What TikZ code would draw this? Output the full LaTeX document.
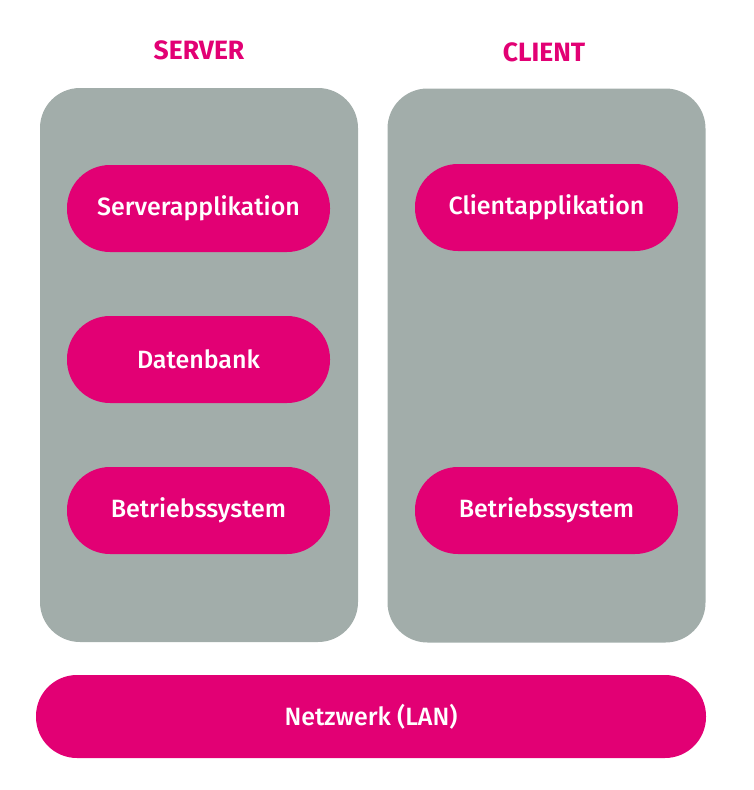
\documentclass[tikz,border=0pt]{standalone}
\usepackage{fontspec}
\setmainfont{Fira Sans}
\newfontfamily\pillfont{Fira Sans Medium}
\usepackage{xcolor}
\usepackage{tikz}
\definecolor{magenta}{HTML}{E20074}
\definecolor{panelgray}{HTML}{A2ADAA}
\tikzset{
    panel/.style={fill=panelgray, rounded corners=40pt, inner sep=0pt, minimum width=318pt, minimum height=554pt},
    pill/.style={fill=magenta, text=white, rounded corners=43pt, inner sep=0pt, minimum width=263pt, minimum height=87pt, font=\pillfont\fontsize{25}{29}\selectfont},
    title/.style={text=magenta, font=\bfseries\fontsize{26.5}{30}\selectfont}
}
\begin{document}
\begin{tikzpicture}[x=1pt, y=-1pt]
\useasboundingbox (0,0) rectangle (753,790);
% Draw panels
\node[panel] (server) at (199,365) {};
\node[panel] (client) at (546.5,365.5) {};
\node[title] (servertitle) at (199,50) {SERVER};
\node[title] (clienttitle) at (544,52) {CLIENT};
% Server side
\foreach \y/\name/\txt in {208.5/sapp/Serverapplikation, 359.5/sdb/Datenbank, 510.5/sos/Betriebssystem} {
    \node[pill] (\name) at (198.5,\y) {\txt};
}
% Client side
\node[pill] (capp) at (546.5,207.5) {Clientapplikation};
\node[pill] (cos) at (546.5,510.5) {Betriebssystem};
% Network
\node[pill, minimum width=670pt, minimum height=83pt, rounded corners=41pt] (lan) at (371,716.5) {Netzwerk (LAN)};
\end{tikzpicture}
\end{document}
